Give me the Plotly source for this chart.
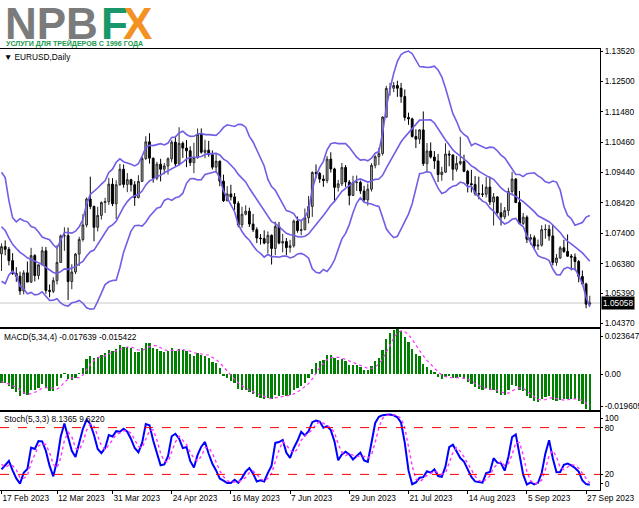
import plotly.graph_objects as go
import pandas as pd

# ---------------- data: EURUSD daily, bar 0 = 17 Feb 2023 ... last = 28 Sep 2023
opens = [1.0671,1.0695,1.0686,1.0648,1.0605,1.0596,1.0546,1.0607,1.0576,1.0665,
         1.0598,1.0634,1.0681,1.0548,1.0545,1.0581,1.0642,1.0731,1.0732,1.0578,
         1.0610,1.0670,1.0719,1.0768,1.0855,1.0830,1.0760,1.0800,1.0843,1.0846,
         1.0905,1.0839,1.0903,1.0955,1.0904,1.0920,1.0903,1.0860,1.0914,1.0991,
         1.1047,1.0992,1.0925,1.0972,1.0955,1.0966,1.0990,1.1046,1.0973,1.1042,
         1.1026,1.1017,1.0977,1.0994,1.1072,1.1012,1.1019,1.1004,1.0962,1.0982,
         1.0915,1.0849,1.0872,1.0862,1.0840,1.0768,1.0804,1.0814,1.0771,1.0752,
         1.0724,1.0722,1.0707,1.0733,1.0689,1.0763,1.0707,1.0712,1.0692,1.0698,
         1.0781,1.0749,1.0752,1.0792,1.0830,1.0944,1.0941,1.0922,1.0917,1.0989,
         1.0956,1.0894,1.0906,1.0961,1.0912,1.0867,1.0910,1.0911,1.0882,1.0852,
         1.0888,1.0968,1.0997,1.1008,1.1130,1.1226,1.1227,1.1236,1.1227,1.1199,
         1.1129,1.1124,1.1065,1.1056,1.1087,1.0974,1.1016,1.0996,1.0983,1.0937,
         1.0945,1.1006,1.1003,1.0955,1.0974,1.0981,1.0948,1.0906,1.0904,1.0873,
         1.0872,1.0871,1.0895,1.0845,1.0862,1.0809,1.0795,1.0816,1.0880,1.0922,
         1.0843,1.0773,1.0794,1.0720,1.0725,1.0697,1.0700,1.0752,1.0753,1.0731,
         1.0642,1.0657,1.0691,1.0679,1.0663,1.0660,1.0645,1.0595,1.0570,1.0502]
highs = [1.0706,1.0716,1.0694,1.0673,1.0626,1.0611,1.0616,1.0645,1.0691,1.0670,
         1.0635,1.0695,1.0694,1.0568,1.0592,1.0700,1.0736,1.0760,1.0759,1.0636,
         1.0674,1.0728,1.0804,1.0860,1.0930,1.0833,1.0829,1.0847,1.0859,1.0926,
         1.0925,1.0918,1.0973,1.0971,1.0942,1.0923,1.0915,1.0935,1.0998,1.1066,
         1.1076,1.0994,1.0980,1.0990,1.0976,1.0995,1.1052,1.1067,1.1096,1.1048,
         1.1053,1.1032,1.1044,1.1092,1.1092,1.1054,1.1050,1.1018,1.1007,1.0984,
         1.0937,1.0898,1.0903,1.0875,1.0848,1.0829,1.0834,1.0826,1.0805,1.0760,
         1.0737,1.0750,1.0746,1.0736,1.0779,1.0778,1.0738,1.0724,1.0718,1.0786,
         1.0796,1.0783,1.0823,1.0865,1.0948,1.0971,1.0946,1.0935,1.0999,1.1012,
         1.0960,1.0919,1.0976,1.0969,1.0919,1.0933,1.0934,1.0917,1.0899,1.0907,
         1.0975,1.1002,1.1027,1.1133,1.1235,1.1245,1.1248,1.1252,1.1245,1.1223,
         1.1145,1.1128,1.1089,1.1090,1.1149,1.1043,1.1045,1.1016,1.1006,1.0963,
         1.1042,1.1018,1.1004,1.0999,1.1064,1.1004,1.0953,1.0953,1.0932,1.0930,
         1.0904,1.0929,1.0930,1.0875,1.0865,1.0842,1.0828,1.0893,1.0946,1.0925,
         1.0882,1.0808,1.0800,1.0737,1.0733,1.0719,1.0767,1.0770,1.0768,1.0768,
         1.0670,1.0697,1.0718,1.0736,1.0670,1.0672,1.0650,1.0615,1.0574,1.0530]
lows = [1.0613,1.0666,1.0632,1.0600,1.0577,1.0533,1.0535,1.0577,1.0573,1.0578,
        1.0585,1.0632,1.0537,1.0525,1.0539,1.0568,1.0641,1.0681,1.0516,1.0552,
        1.0603,1.0630,1.0712,1.0760,1.0821,1.0713,1.0746,1.0786,1.0808,1.0835,
        1.0831,1.0788,1.0900,1.0893,1.0878,1.0880,1.0832,1.0857,1.0912,1.0986,
        1.0974,1.0910,1.0918,1.0914,1.0938,1.0937,1.0978,1.0965,1.0967,1.0993,
        1.0962,1.0966,1.0942,1.0990,1.1007,1.0992,1.0997,1.0954,1.0942,1.0898,
        1.0845,1.0848,1.0850,1.0818,1.0760,1.0758,1.0800,1.0761,1.0744,1.0707,
        1.0702,1.0703,1.0673,1.0635,1.0667,1.0703,1.0676,1.0667,1.0675,1.0692,
        1.0742,1.0733,1.0750,1.0773,1.0795,1.0925,1.0909,1.0896,1.0908,1.0944,
        1.0844,1.0880,1.0898,1.0896,1.0834,1.0865,1.0882,1.0872,1.0846,1.0833,
        1.0880,1.0958,1.0969,1.1001,1.1128,1.1202,1.1214,1.1198,1.1178,1.1118,
        1.1104,1.1061,1.1026,1.1040,1.0966,1.0944,1.0991,1.0956,1.0912,1.0916,
        1.0943,1.0965,1.0917,1.0947,1.0968,1.0945,1.0877,1.0877,1.0866,1.0854,
        1.0862,1.0860,1.0835,1.0766,1.0803,1.0766,1.0787,1.0799,1.0871,1.0842,
        1.0771,1.0768,1.0707,1.0702,1.0686,1.0684,1.0695,1.0722,1.0715,1.0632,
        1.0631,1.0654,1.0674,1.0661,1.0615,1.0615,1.0575,1.0565,1.0488,1.0496]
closes = [1.0695,1.0686,1.0648,1.0605,1.0596,1.0546,1.0607,1.0576,1.0665,1.0598,
          1.0634,1.0681,1.0548,1.0545,1.0581,1.0642,1.0731,1.0732,1.0578,1.0610,
          1.0670,1.0719,1.0768,1.0855,1.0830,1.0760,1.0800,1.0843,1.0846,1.0905,
          1.0839,1.0903,1.0955,1.0904,1.0920,1.0903,1.0860,1.0914,1.0991,1.1047,
          1.0992,1.0925,1.0972,1.0955,1.0966,1.0990,1.1046,1.0973,1.1042,1.1026,
          1.1017,1.0977,1.0994,1.1072,1.1012,1.1019,1.1004,1.0962,1.0982,1.0915,
          1.0849,1.0872,1.0862,1.0840,1.0768,1.0804,1.0814,1.0771,1.0752,1.0724,
          1.0722,1.0707,1.0733,1.0689,1.0763,1.0707,1.0712,1.0692,1.0698,1.0781,
          1.0749,1.0752,1.0792,1.0830,1.0944,1.0941,1.0922,1.0917,1.0989,1.0956,
          1.0894,1.0906,1.0961,1.0912,1.0867,1.0910,1.0911,1.0882,1.0852,1.0888,
          1.0968,1.0997,1.1008,1.1130,1.1226,1.1227,1.1236,1.1227,1.1199,1.1129,
          1.1124,1.1065,1.1056,1.1087,1.0974,1.1016,1.0996,1.0983,1.0937,1.0945,
          1.1006,1.1003,1.0955,1.0974,1.0981,1.0948,1.0906,1.0904,1.0873,1.0872,
          1.0871,1.0895,1.0845,1.0862,1.0809,1.0795,1.0816,1.0880,1.0922,1.0843,
          1.0773,1.0794,1.0720,1.0725,1.0697,1.0700,1.0752,1.0753,1.0731,1.0642,
          1.0657,1.0691,1.0679,1.0663,1.0660,1.0645,1.0595,1.0570,1.0502,1.05058]

# earlier closes (1 Dec 2022 .. 16 Feb 2023), only used to warm up the indicators
prior_close = [1.0522,1.0535,1.0492,1.0467,1.0507,1.0555,1.0530,1.0537,1.0630,1.0680,
               1.0627,1.0585,1.0605,1.0622,1.0605,1.0595,1.0615,1.0640,1.0640,1.0612,
               1.0660,1.0703,1.0665,1.0550,1.0605,1.0522,1.0645,1.0730,1.0735,1.0760,
               1.0855,1.0830,1.0820,1.0790,1.0795,1.0830,1.0855,1.0870,1.0885,1.0915,
               1.0890,1.0867,1.0848,1.0863,1.0990,1.0910,1.0795,1.0727,1.0725,1.0712,
               1.0745,1.0680,1.0723,1.0740,1.0690,1.0670]
# highs / lows of the last 9 earlier bars (6 Feb .. 16 Feb 2023)
prior_high = [1.0795,1.0755,1.0760,1.0790,1.0740,1.0728,1.0805,1.0740,1.0730]
prior_low = [1.0707,1.0670,1.0697,1.0707,1.0660,1.0656,1.0700,1.0660,1.0662]

last_price = 1.05058
price_ticks = [1.13520,1.12500,1.11480,1.10460,1.09440,1.08420,1.07400,1.06380,1.05390,1.04370]
date_ticks = [0, 15, 30, 46, 62, 78, 94, 110, 126, 142, 158]
date_labels = ["17 Feb 2023","12 Mar 2023","31 Mar 2023","24 Apr 2023","16 May 2023",
               "7 Jun 2023","29 Jun 2023","21 Jul 2023","14 Aug 2023","5 Sep 2023","27 Sep 2023"]
macd_label = "MACD(5,34,4) -0.017639 -0.015422"
stoch_label = "Stoch(5,3,3) 8.1365 9.6220"
macd_axis_text = ["0.023647", "0.00", "-0.019605"]

# ---------------- indicators (Bollinger 14/2, MACD 5/34/4, Stochastic 5/3/3)
n = len(closes)
xs = list(range(n))
np0 = len(prior_close)
c_all = pd.Series(prior_close + closes)
mid = c_all.rolling(14).mean()
sd = c_all.rolling(14).std(ddof=0)
bb_up = (mid + 2 * sd).iloc[np0:].tolist()
bb_lo = (mid - 2 * sd).iloc[np0:].tolist()
bb_mid = mid.iloc[np0:].tolist()

ema_f = c_all.ewm(span=5, adjust=False).mean()
ema_s = c_all.ewm(span=34, adjust=False).mean()
macd_all = ema_f - ema_s
macd_sig = macd_all.rolling(4).mean().iloc[np0:].tolist()
macd_main = macd_all.iloc[np0:].tolist()

k0 = len(prior_high)
h_s = pd.Series(prior_high + highs)
l_s = pd.Series(prior_low + lows)
c_s = pd.Series(prior_close[-k0:] + closes)
ll = l_s.rolling(5).min()
hh = h_s.rolling(5).max()
st_main = 100 * (c_s - ll).rolling(3).sum() / (hh - ll).rolling(3).sum()
st_sig = st_main.rolling(3).mean()
st_main_v = st_main.iloc[k0:].tolist()
st_sig_v = st_sig.iloc[k0:].tolist()

# ---------------- figure
BAND = "#6f5fe6"
fig = go.Figure()

fig.add_trace(go.Candlestick(
    x=xs, open=opens, high=highs, low=lows, close=closes,
    increasing=dict(line=dict(color="#2a2a2a", width=1), fillcolor="#a8a8a8"),
    decreasing=dict(line=dict(color="#000000", width=1), fillcolor="#000000"),
    whiskerwidth=0, xaxis="x", yaxis="y", hoverinfo="skip"))
for band in (bb_up, bb_mid, bb_lo):
    fig.add_trace(go.Scatter(x=xs, y=band, mode="lines",
                             line=dict(color=BAND, width=1.6), xaxis="x", yaxis="y",
                             hoverinfo="skip"))

fig.add_trace(go.Bar(x=xs, y=macd_main, marker=dict(color="#008000", line=dict(width=0)),
                     width=0.6, xaxis="x2", yaxis="y2", hoverinfo="skip"))
fig.add_trace(go.Scatter(x=xs, y=macd_sig, mode="lines",
                         line=dict(color="#ff33ff", width=1.2, dash="dot"),
                         xaxis="x2", yaxis="y2", hoverinfo="skip"))

fig.add_trace(go.Scatter(x=xs, y=st_main_v, mode="lines",
                         line=dict(color="#0000ff", width=2), xaxis="x3", yaxis="y3",
                         hoverinfo="skip"))
fig.add_trace(go.Scatter(x=xs, y=st_sig_v, mode="lines",
                         line=dict(color="#ff33ff", width=1.4, dash="dot"),
                         xaxis="x3", yaxis="y3", hoverinfo="skip"))

TOP, BOT, H = 49, 490, 441
def dom(y_top_px, y_bot_px):
    return [(BOT - y_bot_px) / H, (BOT - y_top_px) / H]

# MACD window scaled like the terminal: top = highest value, zero line 45 px below it
m_top = max(macd_main)
m_bot = -m_top * 36.0 / 45.0
m_ppu = 81.0 / (m_top - m_bot)
macd_tickvals = [m_top - 7 / m_ppu, 0.0, m_bot + 4 / m_ppu]

FS = 8.3
xr = [-0.405, 161.76]
axfont = dict(family="Liberation Sans, Arial, sans-serif", size=FS, color="#000000")
common_x = dict(range=xr, showgrid=False, zeroline=False, showline=True, mirror=True,
                linecolor="#000000", linewidth=1, fixedrange=True, automargin=False)
common_y = dict(showgrid=False, zeroline=False, showline=True, mirror=True,
                linecolor="#000000", linewidth=1, side="right", ticks="outside",
                ticklen=2, tickcolor="#000000", tickfont=axfont, fixedrange=True,
                automargin=False)

fig.update_layout(
    width=639, height=508,
    margin=dict(l=0, r=39, t=TOP, b=508 - BOT, autoexpand=False),
    paper_bgcolor="#ffffff", plot_bgcolor="#ffffff",
    showlegend=False, hovermode=False, bargap=0,
    xaxis=dict(**common_x, anchor="y", showticklabels=False, ticks="", rangeslider=dict(visible=False)),
    xaxis2=dict(**common_x, anchor="y2", showticklabels=False, ticks=""),
    xaxis3=dict(**common_x, anchor="y3", tickmode="array", tickvals=date_ticks,
                ticktext=date_labels, ticks="outside", ticklen=3, tickcolor="#000000",
                tickfont=axfont, tickangle=0, ticklabelposition="outside right"),
    yaxis=dict(**common_y, anchor="x", domain=dom(49, 327), range=[1.04252, 1.13587],
               tickmode="array", tickvals=price_ticks,
               ticktext=["%.5f" % v for v in price_ticks]),
    yaxis2=dict(**common_y, anchor="x2", domain=dom(329, 410), range=[m_bot, m_top],
                tickmode="array", tickvals=macd_tickvals, ticktext=macd_axis_text),
    yaxis3=dict(**common_y, anchor="x3", domain=dom(412, 490), range=[0, 100],
                tickmode="array", tickvals=[92.2, 80, 20, 7.8],
                ticktext=["100", "80", "20", "0"]),
)

# levels and current price line
for lv in (80, 20):
    fig.add_shape(type="line", xref="x3 domain", yref="y3", x0=0, x1=1, y0=lv, y1=lv,
                  line=dict(color="#ff0000", width=1, dash="dash"))
fig.add_shape(type="line", xref="x domain", yref="y", x0=0, x1=1, y0=last_price, y1=last_price,
              line=dict(color="#c8c8c8", width=1), layer="below")

fig.add_annotation(xref="paper", yref="y", x=1, y=last_price, xanchor="left", yanchor="middle",
                   xshift=1, text="%.5f" % last_price, showarrow=False,
                   font=dict(family="Liberation Sans, Arial, sans-serif", size=FS, color="#ffffff"),
                   bgcolor="#000000", borderpad=1)

def py(px):
    return (BOT - px) / H

lab_font = dict(family="Liberation Sans, Arial, sans-serif", size=FS, color="#000000")
fig.add_annotation(xref="paper", yref="paper", x=0.004, y=py(57), xanchor="left", yanchor="middle",
                   text="\u25bc EURUSD,Daily", showarrow=False, font=lab_font)
fig.add_annotation(xref="paper", yref="paper", x=0.003, y=py(337), xanchor="left", yanchor="middle",
                   text=macd_label, showarrow=False, font=lab_font)
fig.add_annotation(xref="paper", yref="paper", x=0.003, y=py(419), xanchor="left", yanchor="middle",
                   text=stoch_label, showarrow=False, font=lab_font)

# logo
logo_font = dict(family="Liberation Sans, Arial, sans-serif", size=44)
fig.add_annotation(xref="paper", yref="paper", x=3 / 600, y=py(23), xanchor="left", yanchor="middle",
                   text="<b>NPB</b>", showarrow=False, font=dict(**logo_font, color="#7b7b7b"))
fig.add_annotation(xref="paper", yref="paper", x=99 / 600, y=py(23), xanchor="left", yanchor="middle",
                   text="<b>F</b>", showarrow=False, font=dict(**logo_font, color="#17976a"))
fig.add_annotation(xref="paper", yref="paper", x=121 / 600, y=py(23), xanchor="left", yanchor="middle",
                   text="<b>X</b>", showarrow=False, font=dict(**logo_font, color="#f39223"))
fig.add_annotation(xref="paper", yref="paper", x=4 / 600, y=py(43.5), xanchor="left", yanchor="middle",
                   text="<b>УСЛУГИ ДЛЯ ТРЕЙДЕРОВ С 1996 ГОДА</b>", showarrow=False,
                   font=dict(family="Liberation Sans, Arial, sans-serif", size=7.1, color="#199a4e"))

fig.write_html("out.html", config={"displayModeBar": False},
               post_script="document.body.style.margin='0px';")
